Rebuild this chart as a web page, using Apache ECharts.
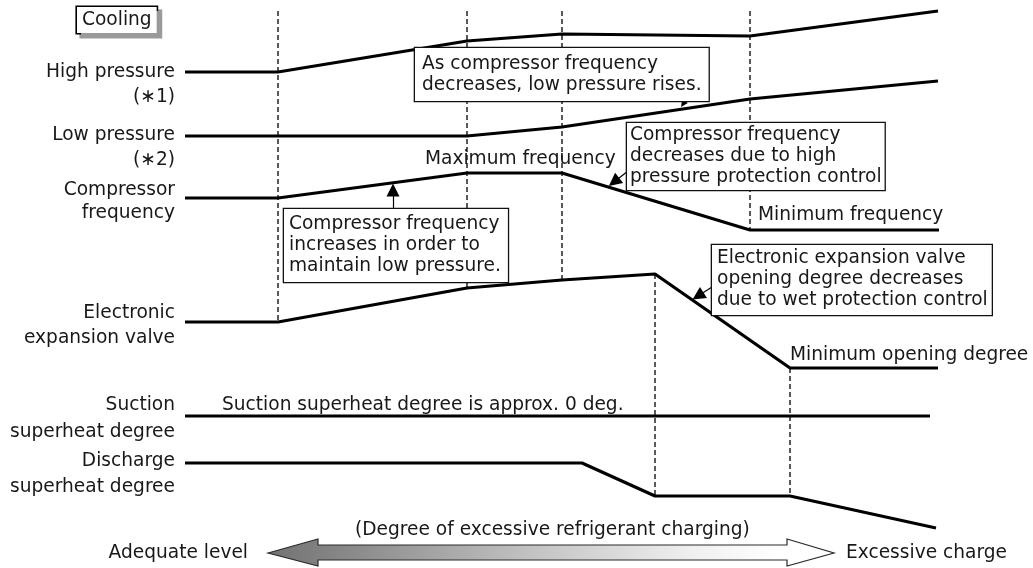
<!DOCTYPE html>
<html><head><meta charset="utf-8">
<script src="https://cdn.jsdelivr.net/npm/echarts@6/dist/echarts.min.js"></script>
<style>html,body{margin:0;padding:0;background:#fff}#c{width:1033px;height:568px}</style>
</head><body><div id="c"></div><script>
// ---------- DATA (diagram units: x = refrigerant-charge progression, y = level, downward) ----------
const highPressure   = [[185,72],[278,72],[467,41],[562,34],[750,36],[938,11]];
const lowPressure    = [[185,136],[467,136],[562,127],[750,99],[938,81]];
const compressorFreq = [[185,198],[278,198],[467,173],[562,173],[750,230],[939,230]];
const expansionValve = [[185,322],[278,322],[467,288],[562,280],[655,274],[790,368],[938,368]];
const suctionSH      = [[185,416],[930,416]];
const dischargeSH    = [[185,463],[582,463],[655,496],[790,496],[936,528]];

// dashed guides: [x, yFrom, yTo]
const dashedGuides = [[278,11,322],[467,11,288],[562,11,280],[750,11,230],[655,274,496],[790,368,496]];

// row labels: [text, y]
const rowLabels = [
  ['High pressure',72],['(\u22171)',97],
  ['Low pressure',135],['(\u22172)',160],
  ['Compressor',190],['frequency',213],
  ['Electronic',313],['expansion valve',338],
  ['Suction',405],['superheat degree',432],
  ['Discharge',461],['superheat degree',487]
];
// free texts: [text, x, y]
const freeTexts = [
  ['Maximum frequency',425,159],
  ['Minimum frequency',758,215],
  ['Minimum opening degree',790,355],
  ['Suction superheat degree is approx. 0 deg.',222,405],
  ['(Degree of excessive refrigerant charging)',355,530],
  ['Excessive charge',846,553]
];
const rightTexts = [['Adequate level',248,553]];
// boxed notes: [text, x, y] (top-left)
const notes = [
  ['As compressor frequency\ndecreases, low pressure rises.',415,48],
  ['Compressor frequency\ndecreases due to high\npressure protection control',627,123],
  ['Compressor frequency\nincreases in order to\nmaintain low pressure.',284,209],
  ['Electronic expansion valve\nopening degree decreases\ndue to wet protection control',712,245]
];
const titleBox = [['Cooling',77,7]];
// note arrows: [fromX, fromY, toX, toY]
const noteArrows = [[685,101,683,104],[628,171,614,182],[393,209,393,190],[712,287,698,296]];
// double arrow outline
const chargeArrow = [[268,553],[318,539],[318,545],[787,545],[787,539],[834,553],[787,566],[787,560],[318,560],[318,566]];

// ---------- STYLE ----------
const FONT = 'DejaVu Sans', FS = 18.6, TXT = '#1a1718', LINE = '#000';
const notePads = [[6,7,5,7],[2,3,2,3],[5,7,5,5],[3,4,4,5]];
const arrowSizes = [7,13,13,13];

const chart = echarts.init(document.getElementById('c'), null, {renderer:'canvas'});

function lineSeries(data, extra) {
  return Object.assign({type:'line', data, symbol:'none', silent:true, z:3,
    lineStyle:{color:LINE, width:3.2}, emphasis:{disabled:true}}, extra || {});
}
function textSeries(items, label, z) {
  return {type:'scatter', silent:true, z: z || 10, symbolSize:1,
    itemStyle:{color:'rgba(0,0,0,0)', opacity:1},
    emphasis:{disabled:true}, data: items,
    label: Object.assign({show:true, position:'inside', formatter:p=>p.name, color:TXT, opacity:1,
      textBorderWidth:0, fontFamily:FONT, fontSize:FS, lineHeight:21}, label)};
}

const series = [];
dashedGuides.forEach(g => series.push(lineSeries([[g[0],g[1]],[g[0],g[2]]],
  {z:1, lineStyle:{color:'#000', width:1.3, type:[5,3]}})));
[highPressure, lowPressure, compressorFreq, expansionValve, suctionSH, dischargeSH]
  .forEach((d,i) => series.push(lineSeries(d, i===0 ? {
    markLine:{silent:true, symbol:['none','triangle'], animation:false,
      lineStyle:{color:LINE, width:1.2, type:'solid', opacity:1}, itemStyle:{color:LINE},
      label:{show:false}, emphasis:{disabled:true},
      data: noteArrows.map((a,k)=>[{coord:[a[0],a[1]], symbol:'none'},
        {coord:[a[2],a[3]], symbol:'triangle', symbolSize:arrowSizes[k]}])}
  } : {})));

series.push({type:'custom', silent:true, z:2, data: chargeArrow,
  renderItem:(params, api) => {
    if (params.dataIndex !== 0) return null;
    return {type:'polygon', shape:{points: chargeArrow.map(p=>api.coord(p))},
      style:{fill:new echarts.graphic.LinearGradient(0,0,1,0,[
        {offset:0,color:'#727272'},{offset:0.12,color:'#858585'},{offset:0.45,color:'#c0c0c0'},
        {offset:0.75,color:'#f0f0f0'},{offset:0.9,color:'#ffffff'},{offset:1,color:'#ffffff'}]),
        stroke:'#2a2a2a', lineWidth:1.2}};
  }});

series.push(textSeries(rowLabels.map(r=>({name:r[0], value:[175, r[1]]})), {align:'right', verticalAlign:'middle'}));
series.push(textSeries(freeTexts.map(r=>({name:r[0], value:[r[1], r[2]]})), {align:'left', verticalAlign:'middle'}));
series.push(textSeries(rightTexts.map(r=>({name:r[0], value:[r[1], r[2]]})), {align:'right', verticalAlign:'middle'}));
series.push(textSeries(notes.map((r,i)=>({name:r[0], value:[r[1], r[2]], label:{padding:notePads[i]}})),
  {align:'left', verticalAlign:'top', backgroundColor:'#fff', borderColor:'#111', borderWidth:1.3}, 12));
series.push(textSeries(titleBox.map(r=>({name:r[0], value:[r[1], r[2]]})),
  {align:'left', verticalAlign:'top', backgroundColor:'#fff', borderColor:'#000', borderWidth:1.6,
   padding:[3,5,2,5], shadowColor:'#9a9a9a', shadowBlur:0, shadowOffsetX:4, shadowOffsetY:4}, 12));

chart.setOption({
  animation:false, backgroundColor:'#fff',
  grid:{left:0, right:0, top:0, bottom:0},
  xAxis:{type:'value', min:0, max:1033, show:false},
  yAxis:{type:'value', min:0, max:568, inverse:true, show:false},
  series
});
</script></body></html>
